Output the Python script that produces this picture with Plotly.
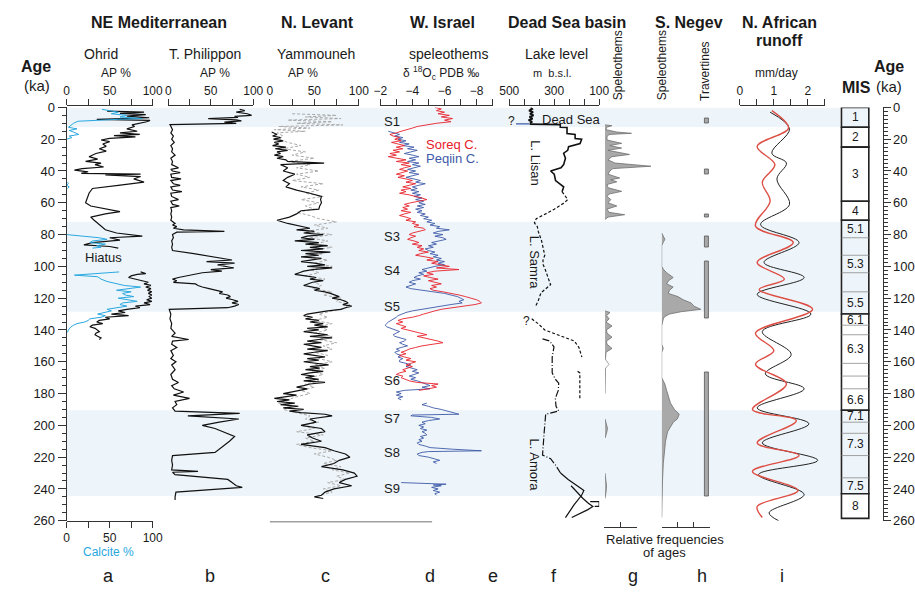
import plotly.graph_objects as go

W, H = 915, 596
def px(x): return x / W
def py(y): return 1 - y / H

# ---------------- DATA (age ka, value) ----------------
OHRID_AP = [(2.3,47),(3,90),(3.8,62),(4.5,92),(5.5,70),(6.5,96),(7.5,35),(8.2,97),(9,93),(10,85),(11,76),(12,79),(13.5,70),(15,82),(16,62),(17,85),(17.8,55),(18.5,80),(19.5,50),(20.5,40),(21.5,50),(23,42),(24.5,46),(26,38),(27.5,46),(29,34),(31,26),(32.5,36),(34,22),(35,40),(36,33),(37.5,43),(38.5,18),(39.5,9),(40.5,25),(41.5,17),(42,86),(42.5,45),(43.5,86),(45,78),(47,90),(49,60),(51,30),(54,26),(57,24),(60,22),(62,28),(64,48),(65.5,62),(67,45),(69,28),(71,32),(73,36),(75,40),(77,45),(79,58),(81,88),(82,50),(83.5,62),(85,30),(86.5,20),(87.5,50),(88.5,60),
            (None,None),(103.5,86),(104.5,92),(105,82),(106,75),(107,72),(108,80),(109,88),(110,95),(111,90),(112,98),(113,92),(114,98),(115,94),(116,99),(117,95),(118,99),(119,96),(120,99),(121,93),(122,99),(123,90),(124,97),(125,80),(126,85),(127,70),(128,60),(129,68),(130,52),(131,72),(132,45),(133,50),(134,38),(135,35),(136,42),(137,30),(138,27),(139,33),(140,36),(141,38),(142,34),(143,33),(144,36),(145,40),(146,38)]
OHRID_CALCITE = [(1.2,41),(2,48),(3,60),(4,52),(5,70),(6,62),(7,88),(7.5,60),(8,30),(8.7,13),(10,8),(11.5,5),(12.5,2),(13.5,12),(14.5,3),(15.5,8),(17,14),(18,3),(19,6),(20,0),
                 (None,None),(47,1),(48,2),(49,0),(50,3),(51,1),
                 (None,None),(80,0),(81,24),(82,38),(83,47),(84,30),(85,27),(86,45),(87,35),(88,40),(88.5,30),
                 (None,None),(103.5,61),(104.5,30),(105.5,9),(106.5,36),(108,40),(109.5,47),(111,58),(112,67),(113,86),(114,70),(115,58),(116,75),(117,65),(118,68),(119,78),(120,60),(121,72),(122,82),(123,65),(124,62),(125,70),(126,55),(127,47),(128,52),(129,42),(130,36),(131,45),(132,40),(133,27),(134,25),(135,21),(136,12),(137,8),(138,5),(140,2),(141.5,1)]
PHILIPPON_AP = [(1.2,84),(2,90),(3,80),(4,93),(5,98),(5.7,78),(6.3,82),(7,47),(7.8,80),(8.5,86),(9.3,66),(10,80),(10.8,2),(12,3),(14,5),(16,3),(18,6),(20,4),(22,7),(24,3),(26,5),(28,4),(30,8),(32,3),(34,5),(36,4),(38,12),(39,3),(40,5),(41,14),(42,3),(44,4),(45,15),(46,3),(48,6),(49,14),(50,3),(52,5),(53,16),(54,3),(56,4),(58,12),(59,3),(61,5),(62,13),(63,3),(65,4),(67,3),(69,4),(71,3),(72,5),(73,8),(74,5),(75,10),(76,6),(77,18),(78,66),(78.5,10),(80,5),(82,6),(84,4),(86,5),(88,4),(90,5),(92,30),(94,55),(96,75),(97,45),(98,78),(99,58),(100,70),(101,77),(102,50),(103,63),(104,40),(105,29),(106,22),(107,12),(108,5),(109,10),(110,6),(111,32),(112,35),(113,40),(114,48),(115,55),(116,64),(117,60),(118,70),(119,73),(120,68),(121,76),(122,82),(123,75),(124,83),(125,78),(126,70),(127,1),(130,3),(133,2),(136,4),(139,3),(142,8),(144,4),(146,24),(147,5),(149,4),(151,10),(153,3),(156,6),(158,3),(160,9),(162,4),(165,8),(168,3),(171,5),(173,12),(175,4),(177,7),(179,18),(181,6),(183,25),(185,8),(187,10),(189,5),(191,8),(192.5,84),(194,23),(196,83),(198,60),(200,40),(202,55),(204,65),(207,78),(210,72),(213,65),(217,55),(219,5),(222,4),(225,5),(228,4),(229,35),(229.5,5),(231,8),(233,45),(234,70),(236,75),(238,80),(239,87),(240,60),(242,9),(245,8),(247,8)]
YAMMOUNEH_A = [(15.5,2),(17,8),(18,3),(19,12),(20,4),(21,15),(22,5),(23,10),(24,3),(25,18),(26,6),(27,20),(28,8),(29,12),(30,5),(31,15),(32,8),(33,18),(34,20),(35,61),(35.5,30),(36,12),(38,20),(40,15),(42,28),(44,20),(46,15),(48,22),(50,18),(52,30),(54,45),(56,58),(58,57),(60,58),(62,56),(64,55),(65,35),(67,30),(69,22),(71,8),(73,20),(75,35),(76,45),(77,30),(78,50),(79,38),(80,60),(81,42),(82,35),(83,50),(84,28),(85,55),(86,40),(87,65),(88,45),(89,60),(90,35),(91,68),(92,40),(93,55),(94,35),(95,58),(96,45),(97,35),(98,50),(99,62),(100,42),(101,70),(102,48),(103,38),(104,33),(105,28),(106,40),(107,52),(108,45),(109,60),(110,48),(111,42),(112,38),(113,48),(114,56),(115,50),(116,62),(117,68),(118,72),(119,78),(120,70),(121,80),(122,85),(123,88),(124,82),(125,92),(126,85),(127,80),(128,65),(129,50),(130,42),(131,38),(132,48),(133,40),(134,55),(135,45),(136,60),(137,50),(138,65),(139,42),(140,55),(141,38),(142,50),(143,65),(144,45),(145,70),(146,55),(147,42),(148,58),(149,38),(150,48),(151,58),(152,42),(153,65),(154,50),(155,38),(156,50),(157,62),(158,42),(159,55),(160,38),(161,52),(162,66),(163,45),(164,56),(165,40),(166,60),(167,45),(168,35),(169,50),(170,40),(171,55),(172,38),(173,62),(174,45),(175,38),(176,30),(177,42),(178,32),(179,25),(180,15),(181,30),(182,18),(183,5),(184,22),(185,8),(186,28),(187,12),(188,32),(189,15),(190,38),(191,22),(192,35),(193,62),(194,70),(196,45),(198,52),(200,35),(202,58),(204,62),(206,42),(208,48),(210,58),(212,35),(214,62),(216,72),(218,85),(220,90),(222,78),(224,72),(226,58),(228,82),(230,95),(232,98),(234,85),(236,78),(238,92),(240,72),(242,62),(244,58),(245,50),(246,60)]
YAMMOUNEH_B = [(4,25),(5,75),(6,40),(7,80),(8,20),(9,70),(10,30),(11,82),(12,10),(13,45),(14,5),(15,40),(16,8),(17,12),(18,15),(20,10),(22,20),(24,35),(26,15),(28,40),(30,25),(32,50),(34,20),(36,45),(38,30),(40,55),(42,30),(44,45),(46,25),(48,60),(50,35),(52,55),(54,40),(56,60),(58,35),(60,55),(62,40),(64,50),(66,30),(68,45),(70,55),(72,75),(74,50),(76,65),(78,40),(80,70),(82,45),(84,65),(86,50),(88,70),(90,45),(92,60),(94,40),(96,65),(98,50),(100,70),(102,45),(104,55),(106,40),(108,62),(110,50),(112,58),(114,48),(116,70),(118,60),(120,80),(122,75),(124,90),(126,85),(128,70),(130,55),(132,65),(134,50),(136,70),(138,55),(140,65),(142,50),(144,70),(146,55),(148,75),(150,60),(152,70),(154,50),(156,65),(158,55),(160,70),(162,50),(164,62),(166,48),(168,60),(170,45),(172,55),(174,40),(176,50),(178,35),(180,45),(182,30),(184,20),(186,10),(188,25),(190,15),(192,30),(194,45),(196,40),(198,55),(200,35),(202,50),(204,30),(206,60),(208,40),(210,50),(212,30),(214,45),(216,70),(218,50),(220,65),(222,75),(224,60),(226,80),(228,70),(230,90),(232,75),(234,85),(236,65),(238,80),(240,60),(242,70),(244,55)]
SOREQ_D18O = [(0,-5.4),(1,-5.8),(2,-5.5),(3,-6.0),(4,-5.6),(5,-6.3),(6,-5.8),(7,-6.5),(8,-6.0),(9,-6.4),(10,-5.5),(11,-4.9),(12,-4.3),(13,-4.0),(14,-3.6),(15,-3.3),(16,-3.0),(17,-2.6),(18,-2.8),(19,-3.2),(20,-2.9),(21,-3.3),(22,-2.7),(23,-3.1),(24,-3.5),(25,-3.0),(26,-3.4),(27,-2.8),(28,-3.2),(29,-2.6),(30,-3.0),(31,-2.5),(32,-3.1),(33,-3.6),(34,-3.0),(35,-3.8),(36,-3.3),(37,-3.9),(38,-3.5),(39,-3.2),(40,-3.7),(41,-3.3),(42,-3.0),(43,-3.5),(44,-3.1),(45,-3.6),(46,-4.0),(47,-3.6),(48,-4.2),(49,-3.8),(50,-3.4),(51,-3.9),(52,-3.3),(53,-3.6),(54,-3.2),(55,-3.8),(56,-4.3),(57,-4.6),(58,-4.9),(59,-4.3),(60,-3.9),(61,-3.5),(62,-3.8),(63,-3.4),(64,-3.7),(65,-3.3),(66,-3.9),(67,-3.5),(68,-3.2),(69,-3.6),(70,-3.9),(71,-3.6),(72,-4.2),(73,-4.0),(74,-4.4),(75,-4.1),(76,-4.7),(77,-4.8),(78,-4.3),(79,-4.0),(80,-3.8),(81,-4.2),(82,-3.9),(83,-3.7),(84,-4.1),(85,-4.4),(86,-4.0),(87,-4.6),(88,-4.3),(89,-4.7),(90,-4.4),(91,-5.0),(92,-4.5),(93,-4.2),(94,-4.8),(95,-5.3),(96,-4.9),(97,-5.6),(98,-5.2),(99,-5.8),(100,-6.3),(101,-5.5),(102,-6.9),(103,-5.4),(104,-4.9),(105,-5.3),(106,-4.7),(107,-5.1),(108,-5.6),(109,-5.0),(110,-5.4),(111,-5.8),(112,-5.2),(113,-5.5),(114,-5.1),(115,-5.3),(116,-5.9),(117,-6.5),(118,-6.9),(119,-7.3),(120,-7.7),(121,-8.0),(122,-8.2),(123,-8.3),(124,-7.9),(125,-7.2),(126,-6.3),(127,-5.8),(128,-5.4),(129,-5.0),(130,-4.7),(131,-4.4),(132,-4.0),(133,-3.4),(134,-3.1),(135,-3.4),(136,-3.0),(137,-3.3),(138,-3.6),(139,-3.3),(140,-3.7),(141,-4.1),(142,-4.5),(143,-4.9),(144,-4.3),(145,-4.8),(146,-5.3),(147,-5.6),(148,-5.9),(149,-5.2),(150,-4.6),(151,-4.2),(152,-3.8),(153,-3.6),(154,-3.3),(155,-3.6),(156,-3.2),(157,-3.5),(158,-3.9),(159,-3.6),(160,-4.2),(161,-3.9),(162,-3.6),(163,-4.0),(164,-3.7),(165,-3.4),(166,-3.6),(167,-3.2),(168,-3.0),(169,-3.4),(170,-3.3),(171,-3.5),(172,-3.8),(173,-4.3),(174,-5.6),(175,-5.2),(176,-5.5),(177,-5.0),(178,-4.4)]
PEQIIN_D18O = [(15,-2.5),(16,-2.8),(17,-3.2),(18,-2.9),(19,-3.4),(20,-3.1),(21,-3.6),(22,-3.2),(23,-3.8),(24,-3.4),(25,-4.1),(26,-3.7),(27,-4.3),(28,-3.9),(29,-3.5),(30,-4.0),(31,-4.4),(32,-3.8),(33,-4.2),(34,-3.7),(35,-4.4),(36,-4.0),(37,-4.5),(38,-4.1),(39,-3.7),(40,-4.2),(41,-3.8),(42,-4.4),(43,-4.0),(44,-3.6),(45,-4.1),(46,-4.5),(47,-4.2),(48,-4.8),(49,-4.4),(50,-4.0),(51,-4.3),(52,-3.9),(53,-4.4),(54,-4.0),(55,-4.5),(56,-4.1),(57,-4.6),(58,-4.2),(59,-4.7),(60,-4.4),(61,-4.8),(62,-4.3),(63,-4.7),(64,-4.2),(65,-4.6),(66,-4.3),(67,-4.8),(68,-4.5),(69,-5.0),(70,-4.7),(71,-5.2),(72,-4.9),(73,-5.4),(74,-5.1),(75,-5.7),(76,-5.5),(77,-6.3),(78,-5.6),(79,-5.3),(80,-5.9),(81,-5.4),(82,-5.9),(83,-6.1),(84,-5.6),(85,-5.2),(86,-5.5),(87,-5.0),(88,-5.3),(89,-4.8),(90,-5.0),(91,-5.4),(92,-5.1),(93,-5.6),(94,-5.3),(95,-5.8),(96,-5.5),(97,-6.0),(98,-5.6),(99,-6.0),(100,-5.4),(101,-5.0),(102,-4.6),(103,-4.9),(104,-4.4),(105,-4.7),(106,-4.3),(107,-4.1),(108,-4.5),(109,-4.0),(110,-3.8),(111,-4.2),(112,-3.9),(113,-3.6),(114,-3.9),(115,-4.5),(116,-5.3),(117,-6.0),(118,-6.5),(119,-6.8),(120,-7.0),(121,-7.2),(122,-6.9),(123,-7.1),(124,-6.4),(125,-5.8),(126,-5.0),(127,-4.5),(128,-4.0),(129,-3.6),(130,-3.3),(131,-3.1),(132,-3.0),(133,-2.8),(134,-2.6),(135,-2.5),(136,-2.4),(137,-2.3),(138,-2.4),(139,-2.7),(140,-2.9),(141,-3.2),(142,-3.0),(143,-2.8),(144,-2.9),(145,-3.3),(146,-3.6),(147,-3.5),(148,-3.2),(149,-3.4),(150,-3.7),(151,-3.3),(152,-3.0),(153,-3.2),(154,-2.9),(155,-3.0),(156,-3.3),(157,-3.1),(158,-3.4),(159,-3.2),(160,-3.2),(161,-3.6),(162,-3.9),(163,-3.6),(164,-3.9),(165,-4.3),(166,-4.0),(167,-4.4),(168,-4.1),(169,-3.8),(170,-4.2),(171,-3.9),(172,-4.3),(173,-4.6),(174,-4.9),(175,-5.1),(176,-4.6),(177,-5.1),(178,-3.5),(179,-3.0),(180,-3.3),(181,-3.0),(182,-3.4),(183,-3.1),(184,-3.3),
               (None,None),(186,-4.9),(187,-4.6),(188,-5.0),(189,-5.3),(190,-5.8),(191,-6.2),(192,-6.6),(193,-6.9),(193.5,-4.0),(194,-3.9),(195,-5.2),(196,-5.7),(197,-5.0),(198,-4.6),(199,-4.8),(200,-4.4),(201,-4.7),(202,-4.5),(203,-4.9),(204,-4.6),(205,-4.8),(206,-4.9),(207,-4.5),(208,-4.7),(209,-4.4),(210,-4.6),(211,-4.3),(212,-4.4),(213,-4.8),(214,-5.1),(215,-6.5),(216,-8.3),(216.5,-5.0),(217,-4.6),(218,-4.3),(219,-4.4),(220,-5.0),(221,-5.4),(222,-5.7),(223,-5.3),(224,-5.5),
               (None,None),(236,-3.3),(237,-6.1),(237.5,-5.3),(238,-5.8),(239,-5.2),(240,-5.6),(241,-5.3),(242,-5.7),(243,-5.4),(244,-5.5)]
# Dead Sea lake level (m b.s.l.)
LAKE_DEADSEA = [(0,405),(1,398),(2,412),(3,394),(4,408),(5,392),(6,410),(7,396),(8,414),(9,398),(10,408)]
LAKE_QUERY = [(10.4,470),(10.4,410)]
LAKE_LISAN = [(10.5,409),(10.8,273),(12.5,273),(12.6,243),(16.5,243),(17,207),(19.6,207),(20,178),(22.7,185),(24.7,236),(27,240),(28.8,258),(32,250),(36,258),(38,270),(40,316),(42,300),(46,294),(50,258),(53,265)]
LAKE_SAMRA = [(53,265),(56,250),(58,240),(60,255),(62,275),(64,300),(66,325),(68,350),(70,380),(72.7,388),(75,375),(78,371),(81,362),(84,356),(88,350),(93,342),(96,350),(99,349),(102,340),(105,334),(108,325),(111.5,316),(114,335),(116.5,358),(119,365),(121.7,371),(125.7,385)]
LAKE_UPPER = [(133,400),(136,372),(140,342),(144,268),(147,210),(151,190),(157,177)]
LAKE_VERT = [(166,196),(167,186),(176,186),(184,186)]
LAKE_AMORA = [(145.6,352),(147,320),(150.6,301),(157,309),(167,309),(171,295),(173.5,280),(178,282),(183,295),(188,292),(191,280),(193,338),(205,345),(218.7,352),(221,316),(225,294),(230,272)]
LAKE_BOTTOM = [(230,272),(234,238),(238,198),(241,168),(244,178),(247,196),(250,212),(253,226),(256,240),(258,250),(None,None),(238,225),(242,200),(246,172),(249,148),(251,128),(253,150),(256,190),(258,222),(None,None),(248,140),(248,100),(251,100),(251,120)]
# relative frequencies of speleothem ages (bracket units)
DS_SPELEO_1 = [(11,0),(11.5,0.41),(12.5,0.09),(14,0.06),(15.5,0.71),(16.3,1.59),(17,0.24),(18.5,0.12),(20.5,0.12),(22.6,1.0),(24,0.29),(25.6,1.0),(27,0.18),(29.6,1.47),(31,0.41),(33,0.18),(35,0.59),(37,2.76),(38.5,0.47),(40,0.29),(42,0.18),(44.4,0.88),(45.5,0.35),(46.8,0.71),(48.5,0.12),(50.5,0.18),(52.8,1.0),(54.5,0.24),(56,0.12),(58,0.35),(60,0.18),(62,0.71),(64,0.12),(66,0.24),(67.5,1.18),(69,0.18),(70.5,0)]
DS_SPELEO_2 = [(128,0),(129,0.3),(131,0.09),(133,0.25),(135,0.06),(137.5,0.42),(140,0.09),(142,0.12),(144.5,0.42),(147,0.09),(149,0.12),(151.6,0.42),(154,0.06),(156,0.03),(158,0.03),(166,0.02),(172,0.02),(180,0)]
DS_SPELEO_HOLLOW = [(158,0),(160,0.12),(161.7,0.24),(163,0.12),(164.5,0)]
DS_SPELEO_3 = [(196,0),(199,0.09),(202,0.15),(205,0.09),(208,0)]
DS_SPELEO_4 = [(230,0),(234,0.06),(238,0.09),(242,0.06),(246,0)]
NEGEV_SPELEO = [(79,0),(81,0.12),(83,0.2),(85,0.09),(87,0),(100,0),(102,0.12),(104,0.31),(106,0.55),(107,0.72),(109,0.43),(111,0.31),(113,0.72),(115,0.49),(117,0.41),(119,1.02),(121,1.35),(123,1.84),(125,2.02),(127,2.45),(128.5,1.22),(130,0.49),(131.5,0.2),(133,0.1),(137.5,0),(149,0),(151.6,0.1),(154,0),(170,0),(174,0.2),(178,0.31),(182,0.41),(186,0.55),(190,0.8),(193,1.1),(196,0.98),(198,0.73),(201,0.55),(204,0.37),(210,0.24),(217,0.15),(224,0.1),(235,0.05),(250,0.02),(258,0)]
NEGEV_TRAVERTINE_START = [7, 39, 67, 81, 97, 167]
NEGEV_TRAVERTINE_END = [10, 42, 69.5, 88, 133, 245]
# N. African runoff (mm/day)
RUNOFF_BLACK = [(3,0.89),(13.5,1.46),(28.8,0.94),(35,1.37),(45,1.09),(61,1.46),(73.7,0.61),(85,1.74),(97.5,0.71),(107,1.89),(117.6,0.51),(130,2.09),(141,0.66),(155.4,1.51),(167.6,0.75),(177,1.89),(189,0.51),(199,2.03),(211,0.66),(222,2.29),(231,0.55),(243.5,1.89),(255,0.86),(260,1.14)]
RUNOFF_RED = [(2,0.94),(13,1.43),(24.6,0.51),(36,1.03),(47,0.66),(59,0.89),(74.6,0.46),(85,1.57),(97.5,0.51),(108,1.31),(114.5,0.57),(127,2.14),(142,0.46),(153,1.0),(161.6,0.46),(174,1.37),(190,0.37),(197,1.66),(211,0.51),(219,1.74),(229,0.37),(241,1.71),(251,0.51),(258,0.66)]
# humid periods (shaded bands) and marine isotope stages
BAND_START = [0, 72, 190.5]
BAND_END = [12.3, 128.5, 244.5]
MIS_LABEL = ['1','2','3','4','5.1','','5.3','','5.5','6.1','','6.3','','','6.6','7.1','','7.3','','7.5','8']
MIS_TOP = [0,12.5,25,59,71,82,93,104,116,130,137,143,161,169,177,190.5,198,205,219,233,243]
MIS_BOTTOM = [12.5,25,59,71,82,93,104,116,130,137,143,161,169,177,190.5,198,205,219,233,243,258.5]
MIS_STAGE_TOP = [0, 12.5, 25, 59, 71, 130, 190.5, 243]
MIS_STAGE_BOTTOM = [12.5, 25, 59, 71, 130, 190.5, 243, 258.5]
MIS_STAGE_WARM = [True, False, False, False, True, False, True, False]

FONT = "Liberation Sans, Arial, sans-serif"
TXT = '#1a1a1a'

def cols(pairs):
    return [p[1] for p in pairs], [p[0] for p in pairs]

fig = go.Figure()

def line(pairs, xa, color, width=1.0, dash='solid', shape='linear'):
    x, y = cols(pairs)
    fig.add_trace(go.Scatter(x=x, y=y, mode='lines', xaxis=xa, yaxis='y',
                             line=dict(color=color, width=width, dash=dash, shape=shape),
                             connectgaps=False, showlegend=False, hoverinfo='skip'))

def hist(pairs, xa, fill='#a9a9a9', edge='#6e6e6e'):
    x, y = cols(pairs)
    fig.add_trace(go.Scatter(x=x, y=y, mode='lines', xaxis=xa, yaxis='y', fill='toself',
                             fillcolor=fill, line=dict(color=edge, width=0.8),
                             showlegend=False, hoverinfo='skip'))

# a
line(OHRID_CALCITE, 'x10', '#29a8e0', 1.0)
line(OHRID_AP, 'x', '#111111', 1.2)
# b
line(PHILIPPON_AP, 'x2', '#111111', 1.2)
# c
line(YAMMOUNEH_B, 'x3', '#a8a8a8', 1.0, dash='3px,2px')
line(YAMMOUNEH_A, 'x3', '#111111', 1.2)
# d
line(PEQIIN_D18O, 'x4', '#3d5aa8', 0.9)
line(SOREQ_D18O, 'x4', '#e8202a', 0.9)
# f
line(LAKE_DEADSEA, 'x5', '#111111', 1.8)
line(LAKE_QUERY, 'x5', '#3d5aa8', 1.3)
line(LAKE_LISAN, 'x5', '#111111', 1.6)
line(LAKE_SAMRA, 'x5', '#111111', 1.2, dash='3px,2px')
line(LAKE_UPPER, 'x5', '#111111', 1.2, dash='3px,2px')
line(LAKE_VERT, 'x5', '#111111', 1.2, dash='3px,2px')
line(LAKE_AMORA, 'x5', '#111111', 1.2, dash='7px,2px,1px,2px')
line(LAKE_BOTTOM, 'x5', '#111111', 1.2)
# g
for seg in (DS_SPELEO_1, DS_SPELEO_2, DS_SPELEO_3, DS_SPELEO_4):
    hist(seg, 'x6')
hist(DS_SPELEO_HOLLOW, 'x6', fill='#ffffff', edge='#8a8a8a')
# h
hist(NEGEV_SPELEO, 'x7')
fig.add_trace(go.Bar(x=[0]*len(NEGEV_TRAVERTINE_START),
                     y=[e - s for s, e in zip(NEGEV_TRAVERTINE_START, NEGEV_TRAVERTINE_END)],
                     base=NEGEV_TRAVERTINE_START, xaxis='x8', yaxis='y', width=0.25,
                     marker=dict(color='#a9a9a9', line=dict(color='#555555', width=0.8)),
                     showlegend=False, hoverinfo='skip'))
# i
line(RUNOFF_BLACK, 'x9', '#222222', 1.0, shape='spline')
line(RUNOFF_RED, 'x9', '#dd4f45', 1.4, shape='spline')
# helper traces so auxiliary axes render
for xa in ('x11', 'x12'):
    fig.add_trace(go.Scatter(x=[None], y=[None], xaxis=xa, yaxis='y', showlegend=False, hoverinfo='skip'))
fig.add_trace(go.Scatter(x=[None], y=[None], xaxis='x13', yaxis='y2', showlegend=False, hoverinfo='skip'))

AX = '#333333'
def top_axis(x0, x1, rng, dtick, minor_dtick, tick0=0):
    return dict(domain=[px(x0), px(x1)], range=rng, side='top', anchor='free', position=py(101),
                showline=True, linecolor=AX, linewidth=1, ticks='outside', ticklen=6, tickcolor=AX,
                tick0=tick0, dtick=dtick,
                minor=dict(dtick=minor_dtick, tick0=tick0, ticks='outside', ticklen=6, tickcolor=AX),
                tickfont=dict(size=12, color=TXT, family=FONT),
                showgrid=False, zeroline=False, fixedrange=True)
def hidden(x0, x1, rng):
    return dict(domain=[px(x0), px(x1)], range=rng, visible=False, anchor='y', fixedrange=True)
def bracket(x0, x1, rng, tv):
    return dict(domain=[px(x0), px(x1)], range=rng, side='bottom', anchor='free', position=py(533),
                showline=True, linecolor=AX, linewidth=1, ticks='inside', ticklen=5, tickcolor=AX,
                tickvals=tv, showticklabels=False, showgrid=False, zeroline=False, fixedrange=True)

layout_axes = dict(
    xaxis=top_axis(58, 146, [0, 100], 50, 25),
    xaxis2=top_axis(162, 249, [0, 100], 50, 25),
    xaxis3=top_axis(266, 357, [0, 100], 50, 25),
    xaxis4=top_axis(379, 494, [-2, -9], 2, 1, tick0=-2),
    xaxis5=top_axis(511, 603, [500, 100], 200, 400 / 6, tick0=100),
    xaxis6=hidden(609, 660, [0, 51 / 17]),
    xaxis7=hidden(667, 716, [0, 49 / 16.33]),
    xaxis8=hidden(705, 721, [-0.5, 0.5]),
    xaxis9=top_axis(747, 834, [0, 2.5], 1, 0.5),
    xaxis10=dict(domain=[px(58), px(146)], range=[0, 100], side='bottom', anchor='free', position=py(527),
                 showline=True, linecolor=AX, linewidth=1, ticks='outside', ticklen=6, tickcolor=AX,
                 tick0=0, dtick=50, minor=dict(dtick=25, ticks='outside', ticklen=6, tickcolor=AX),
                 tickfont=dict(size=12, color=TXT, family=FONT),
                 showgrid=False, zeroline=False, fixedrange=True),
    xaxis11=bracket(608, 642, [0, 2], [0, 1, 2]),
    xaxis12=bracket(667, 716, [0, 3], [0, 1, 2, 3]),
    xaxis13=hidden(851, 879, [0, 1]),
    yaxis=dict(domain=[py(527), py(103)], range=[260, 0], anchor='free', position=px(57),
               showline=True, linecolor=AX, linewidth=1, ticks='outside', ticklen=8, tickcolor=AX,
               tick0=0, dtick=20, minor=dict(dtick=5, ticklen=4, ticks='outside', tickcolor=AX),
               tickfont=dict(size=13, color=TXT, family=FONT), showgrid=False, zeroline=False, fixedrange=True),
    yaxis2=dict(overlaying='y', side='right', range=[260, 0], anchor='free', position=px(893),
                showline=True, linecolor=AX, linewidth=1, ticks='outside', ticklen=7, tickcolor=AX,
                tick0=0, dtick=20, minor=dict(dtick=2.5, ticklen=4, ticks='outside', tickcolor=AX),
                tickfont=dict(size=13, color=TXT, family=FONT), showgrid=False, zeroline=False, fixedrange=True),
)

shapes = []
for s, e in zip(BAND_START, BAND_END):
    shapes.append(dict(type='rect', xref='paper', yref='y', x0=px(58), x1=px(850), y0=s, y1=e,
                       fillcolor='#eef5fa', line=dict(width=0), layer='below'))
for t, b, warm in zip(MIS_STAGE_TOP, MIS_STAGE_BOTTOM, MIS_STAGE_WARM):
    shapes.append(dict(type='rect', xref='paper', yref='y', x0=px(851), x1=px(879), y0=t, y1=b,
                       fillcolor='#eef5fa' if warm else '#ffffff', line=dict(color='#222222', width=1.6), layer='below'))
for t in MIS_TOP:
    if t not in MIS_STAGE_TOP:
        shapes.append(dict(type='line', xref='paper', yref='y', x0=px(851), x1=px(879), y0=t, y1=t,
                           line=dict(color='#8a8a8a', width=0.8)))
shapes.append(dict(type='line', xref='paper', yref='paper', x0=px(266), x1=px(432), y0=py(528), y1=py(528),
                   line=dict(color='#a0a0a0', width=1.5)))

ann = []
def text(x, y, s, size=13, bold=False, color=TXT, angle=0, xanchor='center'):
    ann.append(dict(x=px(x), y=py(y), xref='paper', yref='paper',
                    text=('<b>%s</b>' % s) if bold else s, showarrow=False, textangle=angle,
                    font=dict(size=size, color=color, family=FONT), xanchor=xanchor, yanchor='middle'))

# headers
text(152, 16, 'NE Mediterranean', 16, True)
text(315, 16, 'N. Levant', 16, True)
text(443, 16, 'W. Israel', 16, True)
text(570, 16, 'Dead Sea basin', 16, True)
text(695, 16, 'S. Negev', 16, True)
text(788, 16, 'N. African', 16, True)
text(788, 34, 'runoff', 16, True)
text(27, 61, 'Age', 16, True)
text(28, 81, '(ka)', 15)
text(882, 61, 'Age', 16, True, xanchor='left')
text(884, 82, '(ka)', 15, xanchor='left')
text(866, 83, 'MIS', 16, True)
# sub-headers
text(93, 48, 'Ohrid', 14)
text(200, 48, 'T. Philippon', 14)
text(313, 48, 'Yammouneh', 14)
text(449, 48, 'speleothems', 14)
text(559, 48, 'Lake level', 14)
text(108, 68, 'AP %', 12)
text(210, 68, 'AP %', 12)
text(300, 68, 'AP %', 12)
text(441, 68, 'δ <sup>18</sup>O<sub>c</sub> PDB ‰', 12)
text(555, 68, 'm  b.s.l.', 11)
text(785, 68, 'mm/day', 12)
text(623, 60, 'Speleothems', 12, angle=-90)
text(668, 60, 'Speleothems', 12, angle=-90)
text(712, 66, 'Travertines', 12, angle=-90)
# in-panel labels
text(96, 257, 'Hiatus', 13)
text(101, 559, 'Calcite %', 12, color='#29a8e0')
for lab, yy in (('S1', 117), ('S3', 235), ('S4', 270), ('S5', 307), ('S6', 383), ('S7', 422), ('S8', 457), ('S9', 494)):
    text(391, yy, lab, 13)
text(424, 141, 'Soreq C.', 13, color='#e8202a', xanchor='left')
text(424, 155, 'Peqiin C.', 13, color='#3d5aa8', xanchor='left')
text(575, 115, 'Dead Sea', 13)
text(513, 117, '?', 12)
text(529, 322, '?', 12)
text(537, 160, 'L. Lisan', 13, angle=90)
text(537, 262, 'L. Samra', 13, angle=90)
text(537, 470, 'L. Amora', 13, angle=90)
text(670, 546, 'Relative frequencies', 13)
text(670, 560, 'of ages', 13)
# MIS labels
for lab, t, b in zip(MIS_LABEL, MIS_TOP, MIS_BOTTOM):
    if lab:
        ann.append(dict(x=px(865), y=(t + b) / 2, xref='paper', yref='y', text=lab, showarrow=False,
                        font=dict(size=12, color=TXT, family=FONT), xanchor='center', yanchor='middle'))
# panel letters
for lab, xx in (('a', 101), ('b', 205), ('c', 323), ('d', 430), ('e', 494), ('f', 557), ('g', 638), ('h', 708), ('i', 790)):
    text(xx, 584, lab, 18)

fig.update_layout(width=W, height=H, margin=dict(l=0, r=0, t=0, b=0), paper_bgcolor='white',
                  plot_bgcolor='rgba(0,0,0,0)', showlegend=False, shapes=shapes, annotations=ann,
                  font=dict(family=FONT, color=TXT), bargap=0, **layout_axes)
fig.write_html("out.html")
